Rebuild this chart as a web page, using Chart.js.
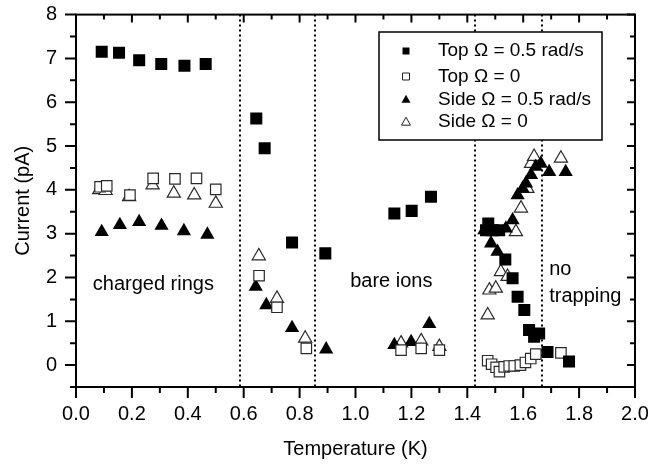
<!DOCTYPE html>
<html>
<head>
<meta charset="utf-8">
<script src="https://cdn.jsdelivr.net/npm/chart.js@4.4.0/dist/chart.umd.min.js"></script>
<style>
    html, body { margin: 0; padding: 0; background: #fff; }
</style>
</head>
<body>
<canvas id="chart" width="650" height="466"></canvas>
<script>

// Top, Omega = 0.5 rad/s (filled squares)
var topSpinT = [0.092, 0.154, 0.226, 0.305, 0.388, 0.464, 0.645, 0.675, 0.773, 0.892, 1.139, 1.201, 1.270,
    1.475, 1.467, 1.490, 1.514, 1.536, 1.562, 1.580, 1.604, 1.621, 1.639, 1.657, 1.687, 1.764];
var topSpinI = [7.15, 7.13, 6.96, 6.87, 6.83, 6.87, 5.63, 4.95, 2.80, 2.55, 3.46, 3.52, 3.84,
    3.23, 3.08, 3.08, 3.08, 2.41, 1.98, 1.56, 1.26, 0.80, 0.65, 0.72, 0.30, 0.08];

// Top, Omega = 0 (open squares)
var topStillT = [0.086, 0.110, 0.193, 0.276, 0.354, 0.431, 0.500, 0.655, 0.719, 0.824, 1.163, 1.235, 1.300,
    1.473, 1.487, 1.503, 1.515, 1.532, 1.550, 1.568, 1.590, 1.608, 1.627, 1.645, 1.735];
var topStillI = [4.07, 4.09, 3.88, 4.26, 4.25, 4.26, 4.01, 2.04, 1.32, 0.38, 0.34, 0.38, 0.34,
    0.10, 0.02, -0.05, -0.15, -0.04, -0.02, -0.02, 0.00, 0.06, 0.15, 0.25, 0.28];

// Side, Omega = 0.5 rad/s (filled triangles)
var sideSpinT = [0.092, 0.157, 0.226, 0.306, 0.386, 0.470, 0.643, 0.681, 0.773, 0.895, 1.139, 1.199, 1.264,
    1.461, 1.485, 1.508, 1.538, 1.562, 1.580, 1.598, 1.610, 1.628, 1.645, 1.663, 1.693, 1.752];
var sideSpinI = [3.04, 3.20, 3.27, 3.18, 3.06, 2.98, 1.79, 1.37, 0.85, 0.36, 0.46, 0.53, 0.94,
    3.08, 2.78, 2.59, 3.12, 3.31, 3.88, 4.03, 4.15, 4.34, 4.53, 4.60, 4.41, 4.41];

// Side, Omega = 0 (open triangles)
var sideStillT = [0.083, 0.106, 0.190, 0.274, 0.350, 0.423, 0.500, 0.654, 0.719, 0.820, 1.163, 1.235, 1.300,
    1.473, 1.479, 1.502, 1.520, 1.544, 1.574, 1.592, 1.615, 1.628, 1.639, 1.735];
var sideStillI = [4.00, 3.98, 3.84, 4.11, 3.92, 3.88, 3.69, 2.49, 1.52, 0.61, 0.50, 0.55, 0.42,
    1.14, 1.71, 1.75, 2.13, 2.02, 3.04, 3.58, 4.03, 4.60, 4.76, 4.72];

var seriesLabels = ["Top \u03A9 = 0.5 rad/s", "Top \u03A9 = 0", "Side \u03A9 = 0.5 rad/s", "Side \u03A9 = 0"];

var xTicks = [0, 0.2, 0.4, 0.6, 0.8, 1.0, 1.2, 1.4, 1.6, 1.8, 2.0];
var yTicks = [0, 1, 2, 3, 4, 5, 6, 7, 8];

// region boundaries (K)
var boundaries = [0.586, 0.854, 1.427, 1.667];

// region labels: text, T, current
var regionText = ["charged rings", "bare ions", "no", "trapping"];
var regionT = [0.06, 0.981, 1.693, 1.693];
var regionI = [1.83, 1.90, 2.18, 1.56];

var font = "'Liberation Sans', Arial, sans-serif";

function pts(xs, ys) {
    var out = [];
    for (var i = 0; i < xs.length; i++) {
        out.push({ x: xs[i], y: ys[i] });
    }
    return out;
}

var framePlugin = {
    id: "frame",
    beforeDatasetsDraw: function (chart) {
        var ctx = chart.ctx;
        var a = chart.chartArea;
        var xs = chart.scales.x;
        ctx.save();
        ctx.strokeStyle = "#000";
        ctx.lineWidth = 2;
        ctx.setLineDash([2, 3]);
        for (var i = 0; i < boundaries.length; i++) {
            var px = Math.round(xs.getPixelForValue(boundaries[i]));
            ctx.beginPath();
            ctx.moveTo(px, a.top);
            ctx.lineTo(px, a.bottom);
            ctx.stroke();
        }
        ctx.restore();
    },
    afterDraw: function (chart) {
        var ctx = chart.ctx;
        var a = chart.chartArea;
        var xs = chart.scales.x;
        var ys = chart.scales.y;
        var i, v, px, py, len;
        ctx.save();
        ctx.strokeStyle = "#000";
        ctx.lineWidth = 2;
        ctx.strokeRect(a.left, a.top, a.right - a.left, a.bottom - a.top);

        // x ticks: bottom outward, top inward
        ctx.beginPath();
        for (i = 0; i <= 20; i++) {
            v = i / 10;
            px = xs.getPixelForValue(v);
            len = (i % 2 === 0) ? 11 : 6;
            ctx.moveTo(px, a.bottom);
            ctx.lineTo(px, a.bottom + len);
            len = (i % 2 === 0) ? 8 : 5;
            ctx.moveTo(px, a.top);
            ctx.lineTo(px, a.top + len);
        }
        // y ticks: left outward, right inward
        for (i = -1; i <= 16; i++) {
            v = i / 2;
            py = ys.getPixelForValue(v);
            len = (i % 2 === 0) ? 11 : 6;
            ctx.moveTo(a.left, py);
            ctx.lineTo(a.left - len, py);
            len = (i % 2 === 0) ? 8 : 5;
            ctx.moveTo(a.right, py);
            ctx.lineTo(a.right - len, py);
        }
        ctx.stroke();

        // region labels
        ctx.fillStyle = "#000";
        ctx.font = "20px " + font;
        ctx.textAlign = "left";
        ctx.textBaseline = "middle";
        for (i = 0; i < regionText.length; i++) {
            ctx.fillText(regionText[i], xs.getPixelForValue(regionT[i]), ys.getPixelForValue(regionI[i]));
        }

        // legend
        var bx = 379, by = 32, bw = 223, bh = 108;
        ctx.fillStyle = "#fff";
        ctx.fillRect(bx, by, bw, bh);
        ctx.lineWidth = 1.5;
        ctx.strokeStyle = "#000";
        ctx.strokeRect(bx, by, bw, bh);
        var rows = [51, 76.5, 99.3, 121.7];
        ctx.font = "19px " + font;
        for (i = 0; i < seriesLabels.length; i++) {
            var cx = 406, cy = rows[i];
            ctx.beginPath();
            if (i < 2) {
                ctx.rect(cx - 3.5, cy - 3.5, 7, 7);
            } else {
                ctx.moveTo(cx, cy - 4.5);
                ctx.lineTo(cx + 4.5, cy + 3.5);
                ctx.lineTo(cx - 4.5, cy + 3.5);
                ctx.closePath();
            }
            if (i % 2 === 0) {
                ctx.fillStyle = "#000";
                ctx.fill();
            } else {
                ctx.fillStyle = "#fff";
                ctx.fill();
                ctx.lineWidth = 1;
                ctx.strokeStyle = "#222";
                ctx.stroke();
            }
            ctx.fillStyle = "#000";
            ctx.fillText(seriesLabels[i], 438, cy);
        }
        ctx.restore();
    }
};

new Chart(document.getElementById("chart"), {
    type: "scatter",
    data: {
        datasets: [{
            label: seriesLabels[0],
            data: pts(topSpinT, topSpinI),
            pointStyle: "rect",
            pointRadius: 8.5,
            backgroundColor: "#000",
            borderColor: "#000",
            borderWidth: 0
        }, {
            label: seriesLabels[1],
            data: pts(topStillT, topStillI),
            pointStyle: "rect",
            pointRadius: 7.4,
            backgroundColor: "#fff",
            borderColor: "#2a2a2a",
            borderWidth: 1.2
        }, {
            label: seriesLabels[2],
            data: pts(sideSpinT, sideSpinI),
            pointStyle: "triangle",
            pointRadius: 8.2,
            backgroundColor: "#000",
            borderColor: "#000",
            borderWidth: 0
        }, {
            label: seriesLabels[3],
            data: pts(sideStillT, sideStillI),
            pointStyle: "triangle",
            pointRadius: 7.6,
            backgroundColor: "#fff",
            borderColor: "#2a2a2a",
            borderWidth: 1.2
        }]
    },
    options: {
        responsive: false,
        animation: false,
        layout: { padding: { left: 0, right: 15, top: 14.6, bottom: 0 } },
        plugins: {
            legend: { display: false },
            tooltip: { enabled: false }
        },
        elements: { point: { hoverRadius: 8 } },
        scales: {
            x: {
                type: "linear",
                min: 0,
                max: 2,
                grid: { display: false, drawTicks: false },
                border: { display: false },
                afterFit: function (scale) {
                    scale.height = 79;
                    scale.paddingLeft = 0;
                    scale.paddingRight = 0;
                },
                afterBuildTicks: function (scale) {
                    scale.ticks = xTicks.map(function (v) { return { value: v }; });
                },
                ticks: {
                    padding: 15,
                    color: "#000",
                    maxRotation: 0,
                    font: { family: font, size: 20 },
                    callback: function (v) { return Number(v).toFixed(1); }
                },
                title: {
                    display: true,
                    text: "Temperature (K)",
                    color: "#000",
                    font: { family: font, size: 20 },
                    padding: { top: 0, bottom: 5 }
                }
            },
            y: {
                type: "linear",
                min: -0.5,
                max: 8,
                grid: { display: false, drawTicks: false },
                border: { display: false },
                afterFit: function (scale) {
                    scale.width = 76;
                    scale.paddingTop = 0;
                    scale.paddingBottom = 0;
                },
                afterBuildTicks: function (scale) {
                    scale.ticks = yTicks.map(function (v) { return { value: v }; });
                },
                ticks: {
                    padding: 19,
                    color: "#000",
                    font: { family: font, size: 20 },
                    callback: function (v) { return String(v); }
                },
                title: {
                    display: true,
                    text: "Current (pA)",
                    color: "#000",
                    font: { family: font, size: 20 },
                    padding: { top: 11, bottom: 0 }
                }
            }
        }
    },
    plugins: [framePlugin]
});

</script>
</body>
</html>
